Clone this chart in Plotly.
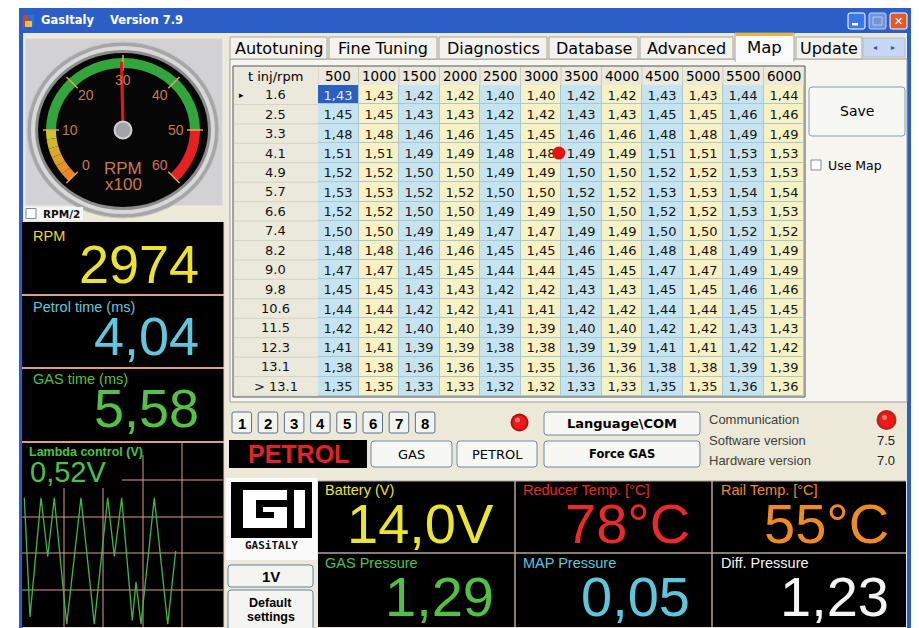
import math
import plotly.graph_objects as go

# ---------------- data ----------------
rpm_columns = [500, 1000, 1500, 2000, 2500, 3000, 3500, 4000, 4500, 5000, 5500, 6000]
tinj_labels = ["1.6", "2.5", "3.3", "4.1", "4.9", "5.7", "6.6", "7.4", "8.2",
               "9.0", "9.8", "10.6", "11.5", "12.3", "13.1", "> 13.1"]
tinj_upper = [1.6, 2.5, 3.3, 4.1, 4.9, 5.7, 6.6, 7.4, 8.2, 9.0, 9.8, 10.6, 11.5, 12.3, 13.1, 99.0]
map_values = [
    [1.43, 1.43, 1.42, 1.42, 1.40, 1.40, 1.42, 1.42, 1.43, 1.43, 1.44, 1.44],
    [1.45, 1.45, 1.43, 1.43, 1.42, 1.42, 1.43, 1.43, 1.45, 1.45, 1.46, 1.46],
    [1.48, 1.48, 1.46, 1.46, 1.45, 1.45, 1.46, 1.46, 1.48, 1.48, 1.49, 1.49],
    [1.51, 1.51, 1.49, 1.49, 1.48, 1.48, 1.49, 1.49, 1.51, 1.51, 1.53, 1.53],
    [1.52, 1.52, 1.50, 1.50, 1.49, 1.49, 1.50, 1.50, 1.52, 1.52, 1.53, 1.53],
    [1.53, 1.53, 1.52, 1.52, 1.50, 1.50, 1.52, 1.52, 1.53, 1.53, 1.54, 1.54],
    [1.52, 1.52, 1.50, 1.50, 1.49, 1.49, 1.50, 1.50, 1.52, 1.52, 1.53, 1.53],
    [1.50, 1.50, 1.49, 1.49, 1.47, 1.47, 1.49, 1.49, 1.50, 1.50, 1.52, 1.52],
    [1.48, 1.48, 1.46, 1.46, 1.45, 1.45, 1.46, 1.46, 1.48, 1.48, 1.49, 1.49],
    [1.47, 1.47, 1.45, 1.45, 1.44, 1.44, 1.45, 1.45, 1.47, 1.47, 1.49, 1.49],
    [1.45, 1.45, 1.43, 1.43, 1.42, 1.42, 1.43, 1.43, 1.45, 1.45, 1.46, 1.46],
    [1.44, 1.44, 1.42, 1.42, 1.41, 1.41, 1.42, 1.42, 1.44, 1.44, 1.45, 1.45],
    [1.42, 1.42, 1.40, 1.40, 1.39, 1.39, 1.40, 1.40, 1.42, 1.42, 1.43, 1.43],
    [1.41, 1.41, 1.39, 1.39, 1.38, 1.38, 1.39, 1.39, 1.41, 1.41, 1.42, 1.42],
    [1.38, 1.38, 1.36, 1.36, 1.35, 1.35, 1.36, 1.36, 1.38, 1.38, 1.39, 1.39],
    [1.35, 1.35, 1.33, 1.33, 1.32, 1.32, 1.33, 1.33, 1.35, 1.35, 1.36, 1.36],
]
selected_row, selected_col = 0, 0

rpm_now = 2974
petrol_ms = 4.04
gas_ms = 5.58
lambda_v = 0.52
battery_v = 14.0
reducer_temp = 78
rail_temp = 55
gas_pressure = 1.29
map_pressure = 0.05
diff_pressure = 1.23
software_version = "7.5"
hardware_version = "7.0"

lambda_t = [2.3, 8, 19, 25.7, 32.3, 44.7, 59, 72.3, 85.7, 92.3, 99.7, 110.3, 114, 119, 132.3, 145.7, 153.7]
lambda_volts = [0.70, 0.05, 0.70, 0.38, 0.70, 0.01, 0.70, 0.01, 0.70, 0.38, 0.70, 0.03, 0.24, 0.01, 0.70, 0.01, 0.41]

gauge_ticks = [0, 10, 20, 30, 40, 50, 60]
tab_names = ["Autotuning", "Fine Tuning", "Diagnostics", "Database", "Advanced", "Map", "Update"]
selected_tab = "Map"
injector_buttons = ["1", "2", "3", "4", "5", "6", "7", "8"]

# ---------------- helpers ----------------
W, H = 919, 628
OFF = 8          # page margin of the html body
UI = "DejaVu Sans"
AR = "Liberation Sans, Arial"
shapes = []
annos = []


def fmt(v, d):
    return f"{v:.{d}f}".replace(".", ",")


def rect(x0, y0, x1, y1, fill, line=None, lw=1, layer="below"):
    shapes.append(dict(type="rect", xref="x", yref="y", x0=x0, y0=y0, x1=x1, y1=y1,
                       fillcolor=fill, line=dict(color=line or fill, width=lw if line else 0),
                       layer=layer))


def ell(cx, cy, rx, ry, fill, line=None, lw=1, layer="below"):
    shapes.append(dict(type="circle", xref="x", yref="y", x0=cx - rx, y0=cy - ry, x1=cx + rx, y1=cy + ry,
                       fillcolor=fill, line=dict(color=line or fill, width=lw if line else 0), layer=layer))


def seg(x0, y0, x1, y1, color, lw=1, layer="below", xref="x", yref="y"):
    shapes.append(dict(type="line", xref=xref, yref=yref, x0=x0, y0=y0, x1=x1, y1=y1,
                       line=dict(color=color, width=lw), layer=layer))


def rbutton(x0, y0, x1, y1, fill="#f7f7f3", line="#7088a8", r=3):
    p = (f"M {x0+r},{y0} L {x1-r},{y0} Q {x1},{y0} {x1},{y0+r} L {x1},{y1-r} Q {x1},{y1} {x1-r},{y1} "
         f"L {x0+r},{y1} Q {x0},{y1} {x0},{y1-r} L {x0},{y0+r} Q {x0},{y0} {x0+r},{y0} Z")
    shapes.append(dict(type="path", xref="x", yref="y", path=p, fillcolor=fill,
                       line=dict(color=line, width=1), layer="below"))


def txt(x, y, s, size, color="#000", family=UI, xa="center", xref="x", yref="y", bold=False):
    annos.append(dict(x=x, y=y, xref=xref, yref=yref, text=(f"<b>{s}</b>" if bold else s),
                      showarrow=False, xanchor=xa, yanchor="middle",
                      font=dict(size=size, color=color, family=family)))


# ---------------- window frame ----------------
rect(19, 6, 913, 640, "#ece9d8")
rect(19, 6, 913, 33, "#2c5ec8")
rect(19, 6, 23, 640, "#2c5ec8")
rect(907, 6, 913, 640, "#2c5ec8")
rect(23, 15, 28, 27, "#d84020")
rect(28, 15, 34, 27, "#3070d0")
rect(25, 21, 32, 27, "#f0c040")
txt(39, 20, "GasItaly&nbsp;&nbsp;&nbsp;&nbsp;Version 7.9", 11.5, "#ffffff", UI, "left", bold=True)
rbutton(848, 13, 865, 29, "#3c78e4", "#ffffff", 2)
rect(852, 23, 858, 25.5, "#ffffff")
rbutton(869, 13, 886, 29, "#7094dc", "#c4d2f2", 2)
rect(873, 17, 882, 25, "rgba(0,0,0,0)", "#b8c8ee", 1)
rbutton(890, 13, 907, 29, "#e05a30", "#ffffff", 2)
txt(898.5, 21, "✕", 11, "#ffffff", UI, bold=True)

# ---------------- left: gauge panel ----------------
rect(25, 38, 223, 206, "#d2d2d4", "#eeeeee", 1)
GX, GY = 123, 130
ell(GX, GY, 96, 88, "#a6a6a6", "#c8c8c8", 1)
ell(GX, GY, 92, 84, "#d8d8da")
ell(GX, GY, 88, 80, "#8c8c8c")
ell(GX, GY, 85, 77, "#060606")


def ang(v):
    return 225 - v * 4.5


def arc_pts(rx, ry, a0, a1, n=24):
    out = []
    for k in range(n + 1):
        a = math.radians(a0 + (a1 - a0) * k / n)
        out.append((GX + rx * math.cos(a), GY - ry * math.sin(a)))
    return out


def band(v0, v1, color):
    pts = arc_pts(77, 72, ang(v0), ang(v1)) + arc_pts(67, 62, ang(v1), ang(v0))
    p = "M " + " L ".join(f"{x:.2f},{y:.2f}" for x, y in pts) + " Z"
    shapes.append(dict(type="path", xref="x", yref="y", path=p, fillcolor=color,
                       line=dict(width=0), layer="below"))


c0, c1 = (236, 128, 40), (205, 200, 45)
for k in range(6):
    f = (k + 0.5) / 6
    col = "rgb(%d,%d,%d)" % tuple(int(c0[i] + (c1[i] - c0[i]) * f) for i in range(3))
    band(gauge_ticks[0] + 10 * k / 6, gauge_ticks[0] + 10 * (k + 1) / 6, col)
band(10, 50, "#32a63a")
band(50, 60, "#e42222")
for v in gauge_ticks:
    a = math.radians(ang(v))
    seg(GX + 64 * math.cos(a), GY - 59 * math.sin(a), GX + 80 * math.cos(a), GY - 75 * math.sin(a),
        "#eaa060", 1.5)
    txt(GX + 53 * math.cos(a), GY - 50 * math.sin(a), str(v), 14, "#c97a52", AR)
txt(GX, 168, "RPM", 17, "#c97a52", AR)
txt(GX, 184, "x100", 17, "#c97a52", AR)

# RPM/2 checkbox
rect(23, 207, 83, 220, "#f6f6f4")
rect(26, 208.5, 36, 218.5, "#ffffff", "#7a8aa0", 1)
txt(41, 214, "RPM/2", 10.5, "#101010", UI, "left", bold=True)

# ---------------- left: numeric panels ----------------
rect(22, 222, 224, 627, "#000000")
for yy in (295, 368, 442):
    seg(22, yy, 224, yy, "#d9a090", 2)
seg(224, 222, 224, 627, "#e8d0c8", 1)
txt(31, 236, "RPM", 14.5, "#e8d838", AR, "left")
txt(201, 264, str(rpm_now), 54, "#ece234", AR, "right")
txt(31, 307, "Petrol time (ms)", 14.5, "#62c6dc", AR, "left")
txt(201, 336, fmt(petrol_ms, 2), 54, "#62c6dc", AR, "right")
txt(31, 379, "GAS time (ms)", 14.5, "#56c048", AR, "left")
txt(201, 408, fmt(gas_ms, 2), 54, "#56c048", AR, "right")

# lambda scope grid
gc = "#d8a090"
seg(64, 488, 64, 627, gc)
seg(103, 488, 103, 627, gc)
seg(143, 455, 143, 627, gc)
seg(182, 443, 182, 627, gc)
seg(122, 480, 223, 480, gc)
for yy in (517, 553, 590):
    seg(22, yy, 223, yy, gc)
txt(27, 452, "Lambda control (V)", 12.5, "#4cc048", AR, "left", bold=True)
txt(28, 472, fmt(lambda_v, 2) + "V", 29, "#4cc048", AR, "left")

# ---------------- tabs ----------------
tab_x = [(230, 327), (329, 437), (439, 547), (549, 638), (640, 733), (735, 794), (796, 862)]
rect(230, 59, 907, 402, "#f6f5f0", "#9c9c94", 1)
for name, (x0, x1) in zip(tab_names, tab_x):
    if name == selected_tab:
        rect(x0, 33, x1, 61, "#fcfcfe", "#a0a0a0", 1)
        rect(x0 + 1, 33, x1 - 1, 36, "#f0b438")
        rect(x0 + 1, 58, x1 - 1, 62, "#fcfcfe")
        txt((x0 + x1) / 2, 47, name, 16.5, "#000000", UI)
    else:
        rect(x0, 37, x1, 59, "#f3f2ec", "#a6a6a0", 1)
        txt((x0 + x1) / 2, 48.5, name, 16, "#000000", UI)
rect(863, 38, 905, 57, "#c8d8f2", "#aabce0", 1)
txt(875, 47.5, "◂", 8, "#3050a0", UI)
txt(893, 47.5, "▸", 8, "#3050a0", UI)

# ---------------- table ----------------
TX0, TX1, TY0, TY1 = 233, 805, 66, 397
HX = 318   # row-header column right edge
HY = 85    # header row bottom
rect(TX0, TY0, TX1, TY1, "#ebe8dc", "#555555", 1)
rect(HX, HY, TX1 - 1, TY1 - 1, "#a9c8d4")
txt((TX0 + HX) / 2, 76, "t inj/rpm", 13, "#000000", UI)
step = rpm_columns[1] - rpm_columns[0]
for r in rpm_columns:
    txt(r - step / 2, 76, str(r), 13.5, "#000000", UI, xref="x2", yref="y")
    seg(r, TY0 + 1, r, HY, "#cfcbbb", 1, layer="above", xref="x2", yref="y")
seg(0, TY0 + 1, 0, HY, "#cfcbbb", 1, layer="above", xref="x2", yref="y")
for i, lab in enumerate(tinj_labels):
    txt((TX0 + HX) / 2, i, lab, 13, "#111111", UI, xref="x", yref="y2")
    seg(TX0 + 1, i + 0.5, HX, i + 0.5, "#d6d2c4", 1, layer="above", xref="x", yref="y2")
txt(241, selected_row, "▸", 9, "#000000", UI, xref="x", yref="y2")

edges = [0] + rpm_columns
parity = [[j % 2 for j in range(len(rpm_columns))] for _ in tinj_labels]
cell_text = [[fmt(v, 2) for v in row] for row in map_values]
sel_z = [[1 if (i == selected_row and j == selected_col) else None for j in range(len(rpm_columns))]
         for i in range(len(tinj_labels))]
sel_text = [[cell_text[i][j] if sel_z[i][j] else "" for j in range(len(rpm_columns))]
            for i in range(len(tinj_labels))]
rows_idx = list(range(len(tinj_labels)))

fig = go.Figure()
fig.add_trace(go.Heatmap(x=edges, y=rows_idx, z=parity, text=cell_text, texttemplate="%{text}",
                         textfont=dict(family=UI, size=13, color="#151515"),
                         colorscale=[[0, "#c6e4ef"], [0.5, "#c6e4ef"], [0.5, "#f7f1c4"], [1, "#f7f1c4"]],
                         zmin=0, zmax=1, showscale=False, xgap=1, ygap=1, hoverinfo="skip",
                         xaxis="x2", yaxis="y2"))
fig.add_trace(go.Heatmap(x=edges, y=rows_idx, z=sel_z, text=sel_text, texttemplate="%{text}",
                         textfont=dict(family=UI, size=13, color="#e4eaf8"),
                         colorscale=[[0, "#2d5fbe"], [1, "#2d5fbe"]], zmin=0, zmax=1,
                         showscale=False, xgap=1, ygap=1, hoverinfo="skip", xaxis="x2", yaxis="y2"))
op_row = next(i for i, u in enumerate(tinj_upper) if petrol_ms <= u)
fig.add_trace(go.Scatter(x=[rpm_now], y=[op_row], mode="markers",
                         marker=dict(size=13, color="#e41414"), hoverinfo="skip",
                         xaxis="x2", yaxis="y2"))

# right of table
rbutton(809, 87, 905, 136, "#f7f7f4", "#7f9cba", 3)
txt(857, 111, "Save", 14, "#000000", UI)
rect(811, 160, 821, 170, "#ffffff", "#7a8aa0", 1)
txt(826, 165, "Use Map", 12.5, "#000000", UI, "left")

# ---------------- controls row ----------------
for k, lab in enumerate(injector_buttons):
    x0 = 232 + k * 26.2
    rbutton(x0, 412, x0 + 19.5, 433, "#f4f4ef", "#5a7090", 2)
    txt(x0 + 9.75, 423, lab, 15, "#000000", AR, bold=True)
ell(519.5, 422.5, 9, 9, "#b01010")
ell(519.5, 422.5, 7, 7, "#f01818")
ell(517.5, 420, 2.5, 2.5, "#ff7070")
rect(229, 440, 367, 468, "#000000")
txt(298, 454, "PETROL", 25, "#e02424", AR, bold=True)
rbutton(371, 441, 452, 467)
txt(411.5, 454, "GAS", 13, "#000000", UI)
rbutton(457, 441, 537, 467)
txt(497, 454, "PETROL", 13, "#000000", UI)
rbutton(544, 412, 700, 435)
txt(622, 423.5, "Language\\COM", 13, "#000000", UI, bold=True)
rbutton(544, 441, 700, 467)
txt(622, 454, "Force GAS", 11.5, "#000000", UI, bold=True)
txt(707, 419, "Communication", 13, "#404040", AR, "left")
txt(707, 440, "Software version", 13, "#404040", AR, "left")
txt(707, 460, "Hardware version", 13, "#404040", AR, "left")
txt(897, 440, software_version, 13, "#202020", AR, "right")
txt(897, 460, hardware_version, 13, "#202020", AR, "right")
ell(886.5, 420, 10, 10, "#c02020")
ell(886.5, 420, 7.5, 7.5, "#f21818")
ell(884.5, 417.5, 2.5, 2.5, "#ff7a7a")

# ---------------- logo + buttons ----------------
rect(226, 478, 317, 560, "#fbfbfb")
rect(231, 482, 312, 538, "#000000")
for (a, b, c, d) in [(243, 490, 287, 500), (243, 490, 256, 528), (243, 518, 287, 528),
                     (274, 507, 287, 528), (263, 507, 287, 512), (294, 490, 305, 528)]:
    rect(a, b, c, d, "#ffffff")
txt(271.5, 545, "GASiTALY", 11, "#111111", "DejaVu Sans Mono", bold=True)
rbutton(228, 565, 313, 587, "#f4f4f0", "#6a7f9e", 3)
txt(270.5, 576, "1V", 15, "#000000", AR, bold=True)
rbutton(228, 590, 313, 640, "#f4f4f0", "#6a7f9e", 3)
txt(270.5, 603, "Default", 12.5, "#000000", AR, bold=True)
txt(270.5, 617, "settings", 12.5, "#000000", AR, bold=True)

# ---------------- bottom sensor panels ----------------
rect(318, 481, 906, 627, "#000000")
bc = "#b4a49c"
seg(515, 481, 515, 627, bc, 1.5)
seg(712, 481, 712, 627, bc, 1.5)
seg(318, 553, 906, 553, bc, 1.5)
seg(318, 481, 906, 481, bc, 1)
panels = [
    (323, 490, 496, 523, "Battery (V)", fmt(battery_v, 1) + "V", "#ece434"),
    (521, 490, 692, 523, "Reducer Temp. [°C]", f"{reducer_temp}°C", "#e82a2a"),
    (719, 490, 891, 523, "Rail Temp. [°C]", f"{rail_temp}°C", "#f08a22"),
    (323, 563, 496, 596, "GAS Pressure", fmt(gas_pressure, 2), "#52c044"),
    (521, 563, 692, 596, "MAP Pressure", fmt(map_pressure, 2), "#5ec6dc"),
    (719, 563, 891, 596, "Diff. Pressure", fmt(diff_pressure, 2), "#f4f4f4"),
]
for lx, ly, vx, vy, lab, val, col in panels:
    txt(lx, ly, lab, 14.5, col, AR, "left")
    txt(vx, vy, val, 56, col, AR, "right")

# ---------------- traces on canvas ----------------
nv = rpm_now / 100.0
na = math.radians(ang(nv))
fig.add_trace(go.Scatter(x=[GX - 6 * math.cos(na), GX + 70 * math.cos(na)],
                         y=[GY + 6 * math.sin(na), GY - 68 * math.sin(na)],
                         mode="lines", line=dict(color="#e01a1a", width=3.2), hoverinfo="skip",
                         xaxis="x", yaxis="y"))
fig.add_trace(go.Scatter(x=[GX], y=[GY], mode="markers",
                         marker=dict(size=17, color="#a4a4a8", line=dict(color="#d0d0d4", width=2)),
                         hoverinfo="skip", xaxis="x", yaxis="y"))
fig.add_trace(go.Scatter(x=lambda_t, y=lambda_volts, mode="lines",
                         line=dict(color="#46b446", width=1.3), hoverinfo="skip",
                         xaxis="x3", yaxis="y3"))


def dx(px):
    return (px - OFF) / W


def dy(py):
    return 1 - (py - OFF) / H


ax_off = dict(visible=False, showgrid=False, zeroline=False, fixedrange=True)
fig.update_layout(
    width=W, height=H, margin=dict(l=0, r=0, t=0, b=0),
    paper_bgcolor="#ffffff", plot_bgcolor="rgba(0,0,0,0)",
    showlegend=False, hovermode=False,
    xaxis=dict(range=[OFF, W + OFF], domain=[0, 1], **ax_off),
    yaxis=dict(range=[H + OFF, OFF], domain=[0, 1], **ax_off),
    xaxis2=dict(range=[0, rpm_columns[-1]], domain=[dx(HX), dx(TX1 - 1)], anchor="y2", **ax_off),
    yaxis2=dict(range=[len(tinj_labels) - 0.5, -0.5], domain=[dy(TY1 - 1), dy(HY)],
                anchor="x2", **ax_off),
    xaxis3=dict(range=[0, 201], domain=[dx(22), dx(223)], anchor="y3", **ax_off),
    yaxis3=dict(range=[0, 1], domain=[dy(626), dy(443)], anchor="x3", **ax_off),
    shapes=shapes, annotations=annos,
)
fig.write_html("out.html")
